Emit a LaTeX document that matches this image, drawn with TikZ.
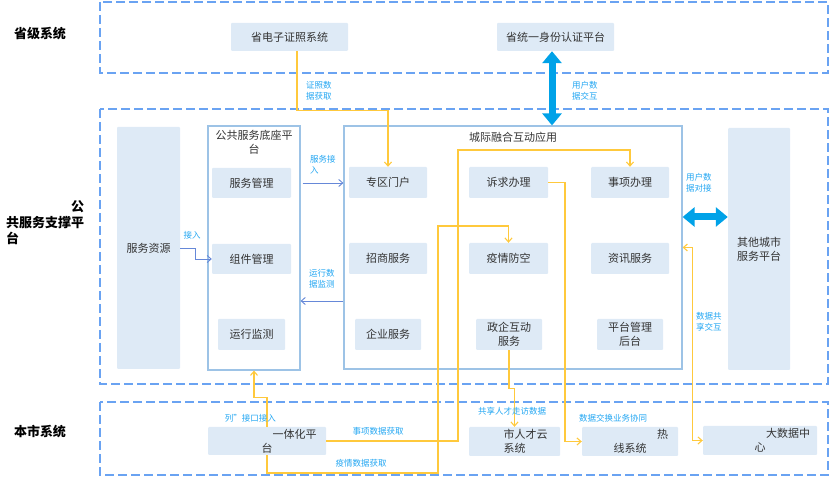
\documentclass[tikz,border=0pt]{standalone}
\usepackage{fontspec}
\setmainfont{Noto Sans CJK SC}
\usepackage{tikz}
\usetikzlibrary{arrows.meta,positioning,calc}
\definecolor{zoneblue}{HTML}{6AA3F2}
\definecolor{panelblue}{HTML}{9DC3E6}
\definecolor{boxfill}{HTML}{DEEAF6}
\definecolor{linkblue}{HTML}{6688D8}
\definecolor{tagcyan}{HTML}{22A6F2}
\definecolor{flowyellow}{HTML}{FFC93C}
\definecolor{bigblue}{HTML}{00A2E8}
\definecolor{boxtext}{HTML}{333333}
\tikzset{
  zone/.style={draw=zoneblue,line width=1.5pt,dash pattern=on 9pt off 4pt},
  panel/.style={draw=panelblue,line width=1.2pt},
  sbox/.style={fill=boxfill,rounded corners=1pt,inner sep=0pt,align=center,
    text=boxtext,font=\fontsize{11}{14}\selectfont},
  tag/.style={text=tagcyan,align=left,inner sep=0pt,font=\fontsize{8.5}{11}\selectfont},
  heading/.style={font=\fontsize{13}{16}\selectfont\bfseries,inner sep=0pt},
  link/.style={draw=linkblue,line width=0.9pt,-{Straight Barb[length=4pt,width=7pt]}},
  flow/.style={draw=flowyellow,line width=1.1pt,-{Straight Barb[length=4pt,width=7pt]}},
  bigarrow/.style={draw=bigblue,line width=7pt,
    {Triangle[length=12pt,width=19pt]}-{Triangle[length=12pt,width=19pt]}}
}
\begin{document}
\begin{tikzpicture}[x=1pt,y=-1pt]
  \useasboundingbox (0,0) rectangle (831,478);
  % zones and left titles
  \draw[zone] (100,2) rectangle (828,73);
  \draw[zone] (100,109) rectangle (828,384);
  \draw[zone] (100,402) rectangle (828,475);
  \node[heading] (tprov) at (40,34) {省级系统};
  \node[heading] (tcity) at (40,432) {本市系统};
  \node[heading,anchor=north west,text width=78pt,align=left] (tpub) at (6,200)
    {\hfill 公\\共服务支撑平\\台};
  % province systems
  \node[sbox,minimum width=117pt,minimum height=28pt] (cert) at (289.5,37) {省电子证照系统};
  \node[sbox,minimum width=117pt,minimum height=28pt] (auth) at (555.5,37) {省统一身份认证平台};
  % support platform
  \node[sbox,minimum width=63pt,minimum height=242pt] (res) at (148.5,248) {服务资源};
  \node[panel,minimum width=92pt,minimum height=244pt,inner sep=0pt] (base) at (254,248) {};
  \node[text=boxtext,align=center,font=\fontsize{11}{14}\selectfont,anchor=north,inner sep=0pt]
    (basetitle) at (254,130) {公共服务底座平\\台};
  \node[sbox,minimum width=79pt,minimum height=30pt] (svcmgr) at (251.5,183) {服务管理};
  \node[sbox,minimum width=79pt,minimum height=30pt] (compmgr) at (251.5,259) {组件管理};
  \node[sbox,minimum width=67pt,minimum height=31pt] (monitor) at (251.5,334.5) {运行监测};
  \node[panel,minimum width=338pt,minimum height=243pt,inner sep=0pt] (app) at (513,247.5) {};
  \node[text=boxtext,font=\fontsize{11}{14}\selectfont,inner sep=0pt] (apptitle) at (513,137) {城际融合互动应用};
  \node[sbox,minimum width=78pt,minimum height=31pt] (portal) at (388,182.5) {专区门户};
  \node[sbox,minimum width=78pt,minimum height=31pt] (invest) at (388,258.5) {招商服务};
  \node[sbox,minimum width=66pt,minimum height=31pt] (ent) at (388,334.5) {企业服务};
  \node[sbox,minimum width=79pt,minimum height=31pt] (appeal) at (508.5,182.5) {诉求办理};
  \node[sbox,minimum width=79pt,minimum height=31pt] (epid) at (508.5,258.5) {疫情防空};
  \node[sbox,minimum width=66pt,minimum height=31pt] (govent) at (509,334.5) {政企互动\\服务};
  \node[sbox,minimum width=78pt,minimum height=31pt] (matter) at (630,182.5) {事项办理};
  \node[sbox,minimum width=78pt,minimum height=31pt] (info) at (630,258.5) {资讯服务};
  \node[sbox,minimum width=66pt,minimum height=31pt] (admin) at (630,334.5) {平台管理\\后台};
  \node[sbox,minimum width=62pt,minimum height=242pt] (other) at (759,249) {其他城市\\服务平台};
  % city systems
  \node[sbox,minimum width=118pt,minimum height=28pt] (onestop) at (267,441) {\hspace*{55pt}一体化平\\台};
  \node[sbox,minimum width=91pt,minimum height=29pt] (talent) at (514.5,441.5) {\hspace*{22pt}市人才云\\系统};
  \node[sbox,minimum width=96pt,minimum height=29pt] (hotline) at (630,441.5) {\hspace*{65pt}热\\线系统};
  \node[sbox,minimum width=114pt,minimum height=29pt] (bigdata) at (760,440.5) {\hspace*{56pt}大数据中\\心};
  % big arrows
  \coordinate (uy) at (0,217);
  \draw[bigarrow] ([xshift=-3.5pt]auth.south) -- ([xshift=-3.5pt]auth.south |- app.north);
  \draw[bigarrow] (app.east |- uy) -- (other.west |- uy);
  % blue links
  \draw[link] (res.east) -- ++(15,0) |- (compmgr.west);
  \draw[link] ([xshift=2pt]base.east |- svcmgr) -- (app.west |- svcmgr);
  \coordinate (my) at (0,301);
  \draw[link] (app.west |- my) -- (base.east |- my);
  % yellow flows
  \draw[flow] ([xshift=7.5pt]cert.south) -- ++(0,59) -| (portal.north);
  \draw[flow] (onestop.north) -- ++(0,-29) -| (base.south);
  \draw[flow] (onestop.south) |- (438,473) -- (438,226) -| (epid.north);
  \draw[flow] (onestop.east) -- (458,441) -- (458,150) -| (matter.north);
  \draw[flow] (appeal.east) -- (565,182.5) |- (hotline.west);
  \draw[flow] (govent.south) -- ++(0,38) -| (talent.north);
  \draw[flow,{Straight Barb[length=4pt,width=7pt]}-{Straight Barb[length=4pt,width=7pt]}]
    (app.east) -- ++(10,0) |- (bigdata.west);
  % labels
  \node[tag,anchor=north west] (lcert) at (306,81) {证照数\\据获取};
  \node[tag,anchor=north west] (lauth) at (572,81) {用户数\\据交互};
  \node[tag,anchor=north west] (lsvc) at (310,155) {服务接\\入};
  \node[tag] (lin) at (192,235) {接入};
  \node[tag,anchor=north west] (lmon) at (309,269) {运行数\\据监测};
  \node[tag,anchor=north west] (luser) at (686,173) {用户数\\据对接};
  \node[tag,anchor=north west] (lshare) at (696,312) {数据共\\享交互};
  \node[tag,anchor=east] (lport) at (276,418) {列”接口接入};
  \node[tag] (lmatter) at (378,431) {事项数据获取};
  \node[tag] (lepid) at (361,463) {疫情数据获取};
  \node[tag] (ltalent) at (512,411) {共享人才走访数据};
  \node[tag] (lhot) at (613,418) {数据交换业务协同};
\end{tikzpicture}
\end{document}
